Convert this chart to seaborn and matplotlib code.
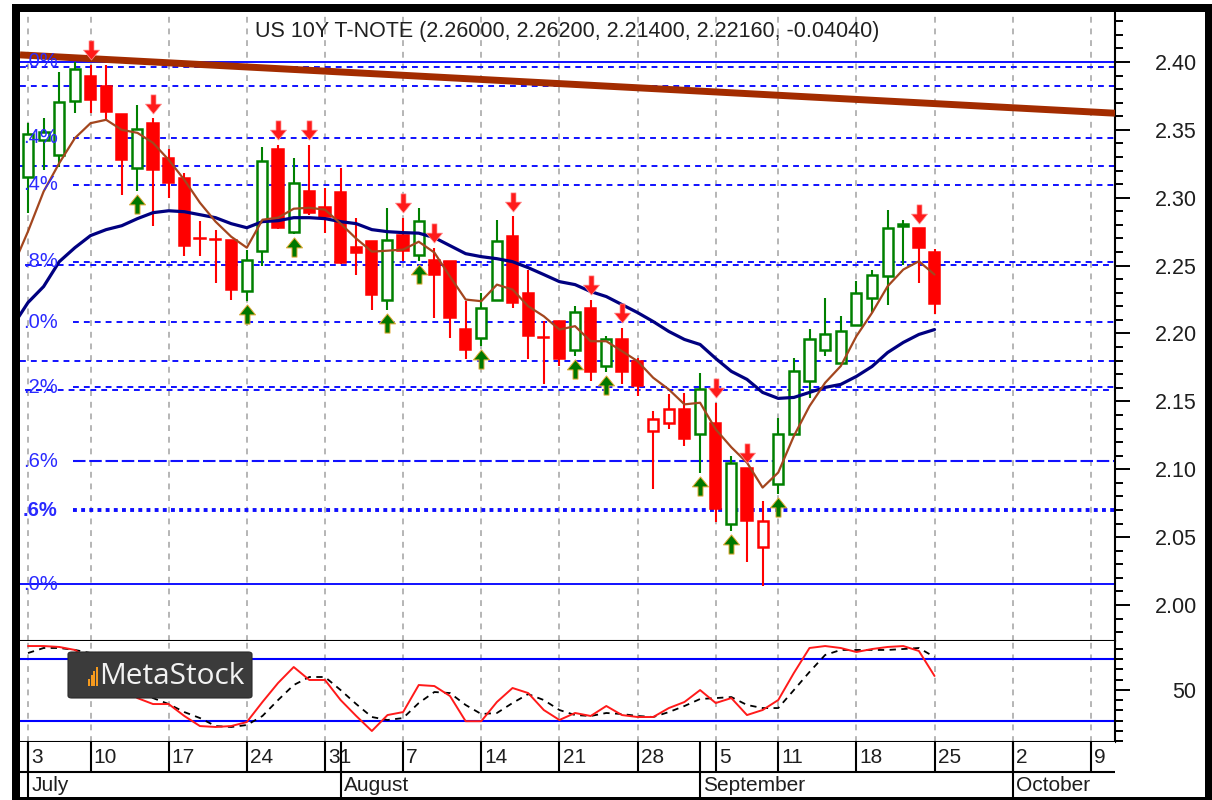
"""Recreate a MetaStock daily chart of the US 10Y T-Note (Jul - Sep 2017)."""

import matplotlib

matplotlib.use("Agg")
import matplotlib.pyplot as plt
import numpy as np
import pandas as pd
import seaborn as sns
from matplotlib.patches import FancyBboxPatch, Rectangle
from matplotlib.path import Path
from matplotlib.ticker import MultipleLocator

TITLE = "US 10Y T-NOTE (2.26000, 2.26200, 2.21400, 2.22160, -0.04040)"

HOLIDAYS = ["2017-07-04", "2017-09-04"]
FIRST_DAY, LAST_AXIS_DAY = "2017-07-03", "2017-10-13"

OPEN = [2.3154, 2.3426, 2.3316, 2.3713, 2.3897, 2.3824, 2.3618, 2.3218, 2.3554, 2.3292,
        2.3145, 2.2705, 2.2695, 2.2691, 2.2312, 2.2605, 2.3358, 2.2750, 2.3046, 2.2934,
        2.3039, 2.2640, 2.2679, 2.2250, 2.2728, 2.2581, 2.2544, 2.2532, 2.2030, 2.1968,
        2.2250, 2.2715, 2.2300, 2.1975, 2.2090, 2.1882, 2.2189, 2.1760, 2.1956, 2.1796,
        2.1282, 2.1343, 2.1441, 2.1257, 2.1343, 2.0596, 2.1012, 2.0424, 2.0890, 2.1257,
        2.1649, 2.1882, 2.1785, 2.2066, 2.2262, 2.2421, 2.2795, 2.2777, 2.2600]
HIGH = [2.3550, 2.3588, 2.3929, 2.4002, 2.3978, 2.3978, 2.3618, 2.3684, 2.3586, 2.3358,
        2.3181, 2.2831, 2.2765, 2.2691, 2.2618, 2.3377, 2.3389, 2.3290, 2.3389, 2.3074,
        2.3220, 2.2853, 2.2680, 2.2924, 2.2851, 2.2924, 2.2632, 2.2532, 2.2238, 2.2300,
        2.2838, 2.2862, 2.2470, 2.2090, 2.2090, 2.2200, 2.2250, 2.1980, 2.2042, 2.1820,
        2.1429, 2.1551, 2.1564, 2.1711, 2.1490, 2.1098, 2.1012, 2.0767, 2.1380, 2.1821,
        2.2030, 2.2262, 2.2128, 2.2385, 2.2471, 2.2912, 2.2838, 2.2777, 2.2620]
LOW = [2.2890, 2.3206, 2.3230, 2.3627, 2.3627, 2.3574, 2.3020, 2.3046, 2.2789, 2.2998,
       2.2569, 2.2569, 2.2372, 2.2250, 2.2238, 2.2495, 2.2770, 2.2730, 2.2870, 2.2743,
       2.2515, 2.2434, 2.2176, 2.2176, 2.2532, 2.2532, 2.2115, 2.1968, 2.1809, 2.1907,
       2.2250, 2.2191, 2.1810, 2.1625, 2.1760, 2.1833, 2.1649, 2.1716, 2.1625, 2.1539,
       2.0853, 2.1294, 2.1171, 2.0976, 2.0610, 2.0547, 2.0314, 2.0142, 2.0816, 2.1257,
       2.1527, 2.1833, 2.1772, 2.2066, 2.2152, 2.2213, 2.2507, 2.2373, 2.2140]
CLOSE = [2.3470, 2.3485, 2.3708, 2.3946, 2.3721, 2.3635, 2.3280, 2.3505, 2.3201, 2.3108,
         2.2643, 2.2695, 2.2688, 2.2324, 2.2544, 2.3267, 2.2777, 2.3110, 2.2890, 2.2860,
         2.2520, 2.2590, 2.2287, 2.2691, 2.2605, 2.2826, 2.2434, 2.2115, 2.1882, 2.2189,
         2.2679, 2.2226, 2.1980, 2.1965, 2.1809, 2.2157, 2.1716, 2.1956, 2.1716, 2.1613,
         2.1368, 2.1441, 2.1220, 2.1588, 2.0706, 2.1049, 2.0620, 2.0620, 2.1257, 2.1723,
         2.1956, 2.1993, 2.2017, 2.2299, 2.2434, 2.2777, 2.2805, 2.2630, 2.2216]
# expert highlight per bar: g = bullish, r = bearish
HIGHLIGHT = ("gggg" "rrr" "g" "rrrrrr" "gg" "r" "g" "rrrrr" "g" "r" "g" "rrr" "gg"
             "rrrr" "g" "r" "g" "rrrrr" "g" "r" "g" "rr" "ggggggggg" "rr")

SELL_SIGNALS = ["2017-07-10", "2017-07-14", "2017-07-26", "2017-07-28", "2017-08-07",
                "2017-08-09", "2017-08-16", "2017-08-23", "2017-08-25", "2017-09-05",
                "2017-09-07", "2017-09-22"]
BUY_SIGNALS = ["2017-07-13", "2017-07-24", "2017-07-27", "2017-08-04", "2017-08-08",
               "2017-08-14", "2017-08-22", "2017-08-24", "2017-09-01", "2017-09-06",
               "2017-09-11"]

# moving averages, first value belongs to the session before Jul 3
SHORT_MA = [2.2485, 2.2752, 2.3046, 2.3255, 2.3439, 2.3549, 2.3574, 2.3500, 2.3478, 2.3404,
            2.3279, 2.3132, 2.2963, 2.2824, 2.2713, 2.2632, 2.2838, 2.2853, 2.2919, 2.2926,
            2.2912, 2.2809, 2.2699, 2.2603, 2.2610, 2.2618, 2.2676, 2.2596, 2.2419, 2.2250,
            2.2238, 2.2360, 2.2324, 2.2201, 2.2127, 2.2029, 2.2054, 2.1943, 2.1943, 2.1870,
            2.1796, 2.1674, 2.1588, 2.1478, 2.1490, 2.1294, 2.1162, 2.1049, 2.0865, 2.0976,
            2.1245, 2.1465, 2.1637, 2.1760, 2.1980, 2.2152, 2.2348, 2.2471, 2.2532, 2.2434]
LONG_MA = [2.2051, 2.2228, 2.2346, 2.2529, 2.2632, 2.2721, 2.2765, 2.2794, 2.2846, 2.2890,
           2.2904, 2.2897, 2.2875, 2.2853, 2.2809, 2.2779, 2.2824, 2.2831, 2.2853, 2.2853,
           2.2846, 2.2824, 2.2809, 2.2765, 2.2750, 2.2743, 2.2739, 2.2706, 2.2647, 2.2588,
           2.2566, 2.2551, 2.2529, 2.2485, 2.2434, 2.2382, 2.2360, 2.2309, 2.2272, 2.2213,
           2.2154, 2.2088, 2.2015, 2.1956, 2.1919, 2.1816, 2.1721, 2.1662, 2.1566, 2.1522,
           2.1529, 2.1566, 2.1603, 2.1625, 2.1684, 2.1757, 2.1860, 2.1934, 2.1993, 2.2029]

STOCH_K = [92.6, 92.6, 91.7, 88.8, 79.0, 67.4, 54.7, 42.0, 36.2, 36.2,
           24.6, 14.8, 13.9, 14.8, 18.7, 38.2, 56.7, 72.2, 59.6, 59.6,
           40.1, 24.6, 10.0, 25.5, 28.4, 54.7, 53.7, 44.0, 19.5, 19.5,
           38.2, 51.8, 46.9, 30.4, 20.7, 27.5, 24.6, 34.3, 25.5, 23.6,
           23.6, 32.3, 38.2, 49.8, 37.2, 42.0, 25.5, 30.4, 40.1, 66.4,
           90.7, 92.6, 90.7, 86.8, 89.7, 91.7, 92.6, 87.8, 63.5]
STOCH_D = [85.8, 90.7, 90.7, 88.8, 85.8, 79.0, 67.4, 49.8, 42.0, 36.2,
           28.4, 22.6, 14.8, 13.9, 15.8, 24.6, 40.1, 54.7, 62.5, 62.5,
           49.8, 36.2, 23.6, 20.7, 22.6, 37.2, 47.9, 46.9, 35.3, 26.5,
           27.5, 37.2, 45.9, 40.1, 30.4, 25.5, 24.6, 27.5, 26.5, 24.6,
           23.6, 28.4, 34.3, 41.1, 42.0, 43.0, 35.3, 32.3, 32.3, 49.8,
           67.4, 83.9, 88.8, 88.8, 88.8, 88.8, 89.7, 90.7, 81.9]
STOCH_BANDS = [80, 20]

# trend line anchors (date, price)
TREND_ANCHORS = [("2017-07-03", 2.4049), ("2017-10-09", 2.3632)]

FIB_LEVELS = [2.4000, 2.3963, 2.3824, 2.3441, 2.3235, 2.3096, 2.2529, 2.2507, 2.2081,
              2.1794, 2.1603, 2.1585, 2.1059, 2.0699, 2.0154]
# only the tail of each level label is visible in the source screenshot
FIB_LABELS = [".0%", "", "", ".4%", "", ".4%", ".8%", "", ".0%",
              "", ".2%", "", ".6%", ".6%", ".0%"]

# ---- styling -------------------------------------------------------------
FIB_STYLE = ["solid", "dash", "dash", "dash", "dash", "dash", "dash", "dash2", "dash",
             "dash", "dash", "dash2", "long", "dot", "solid"]
GREEN, RED = "#008000", "#ff0000"
BLUE = "#1010ff"
FONT = ["Liberation Sans", "DejaVu Sans"]

W, H = 1212, 800
X0, DX = 28.0, 15.63           # pixel of first bar, pixels per bar
XLIM = ((20 - X0) / DX, (1115 - X0) / DX)
PRICE_LIM = (1.9735, 2.4368)
OSC_LIM = (-0.7, 97.5)
PX = (PRICE_LIM[1] - PRICE_LIM[0]) / (641 - 12)   # price units per pixel


def fig_box(x0, y0, x1, y1):
    """Pixel box (top-left origin) -> figure fraction rect."""
    return [x0 / W, 1 - y1 / H, (x1 - x0) / W, (y1 - y0) / H]


def arrow_path(up):
    verts = [(-0.13, 0.5), (0.13, 0.5), (0.13, 0.02), (0.42, 0.02), (0.0, -0.5),
             (-0.42, 0.02), (-0.13, 0.02), (-0.13, 0.5)]
    if up:
        verts = [(x, -y) for x, y in verts]
    return Path(verts, closed=True)


def main():
    sns.set_theme(style="white")
    plt.rcParams["font.family"] = FONT

    calendar = pd.bdate_range(FIRST_DAY, LAST_AXIS_DAY)
    calendar = calendar[~calendar.isin(pd.to_datetime(HOLIDAYS))]
    index_of = {d: i for i, d in enumerate(calendar)}

    n = len(CLOSE)
    bars = pd.DataFrame({"date": calendar[:n], "open": OPEN, "high": HIGH,
                         "low": LOW, "close": CLOSE, "tone": list(HIGHLIGHT)})
    bars["pos"] = np.arange(n)
    bars["color"] = bars["tone"].map({"g": GREEN, "r": RED})
    bars["hollow"] = bars["close"] > bars["open"]

    fig = plt.figure(figsize=(W / 100, H / 100), dpi=100)
    ax = fig.add_axes(fig_box(20, 12, 1115, 641))
    ax_k = fig.add_axes(fig_box(20, 641, 1115, 742))
    ax_d = fig.add_axes(fig_box(20, 742, 1115, 798))
    for a in (ax, ax_k, ax_d):
        a.set_xlim(*XLIM)
        a.set_facecolor("white")
        a.tick_params(axis="x", bottom=False, labelbottom=False, top=False)
        for side in ("left", "top"):
            a.spines[side].set_visible(False)
        for side in ("right", "bottom"):
            a.spines[side].set_color("black")
            a.spines[side].set_linewidth(1.5)
    ax.set_ylim(*PRICE_LIM)
    ax_k.set_ylim(*OSC_LIM)

    # weekly and monthly boundaries from the trading calendar
    week_start = [i for i in range(len(calendar))
                  if i == 0 or calendar[i].weekday() < calendar[i - 1].weekday()]
    month_start = [i for i in range(len(calendar))
                   if i == 0 or calendar[i].month != calendar[i - 1].month]

    for a in (ax, ax_k):
        a.vlines(week_start, *a.get_ylim(), colors="#a9a9a9", lw=1.2,
                 linestyles=(0, (3.5, 3.5)), zorder=1)

    # Fibonacci retracement lines
    for level, label, style in zip(FIB_LEVELS, FIB_LABELS, FIB_STYLE):
        start = (73 - X0) / DX if (label and style != "solid") else XLIM[0]
        kw = {"solid": dict(linestyles="solid", lw=1.4),
              "dash": dict(linestyles=(0, (3.0, 2.6)), lw=1.4),
              "dash2": dict(linestyles=(3.0, (3.0, 2.6)), lw=1.4),
              "long": dict(linestyles=(0, (6.0, 1.8)), lw=1.5),
              "dot": dict(linestyles=(0, (1.0, 1.1)), lw=2.8)}[style]
        ax.hlines(level, start, XLIM[1], colors=BLUE, zorder=2, **kw)
        if label:
            ax.text((23 - X0) / DX, level, label, ha="left", va="center",
                    fontsize=14.5, color="#2a2aff",
                    fontweight="bold" if style == "dot" else "normal", zorder=8)

    # long-term trend line
    (d0, p0), (d1, p1) = TREND_ANCHORS
    ax.axline((index_of[pd.Timestamp(d0)], p0), (index_of[pd.Timestamp(d1)], p1),
              color="#a32c00", lw=5.0, zorder=3, solid_capstyle="butt")

    # candlesticks
    ax.vlines(bars["pos"], bars["low"], bars["high"], colors=bars["color"],
              lw=1.5, zorder=4)
    body_low = bars[["open", "close"]].min(axis=1)
    body_h = (bars["close"] - bars["open"]).abs()
    for hollow, width, lw in ((False, 0.72, 1.1), (True, 0.64, 1.8)):
        m = bars["hollow"] == hollow
        ax.bar(bars.loc[m, "pos"], body_h[m], bottom=body_low[m], width=width,
               color="white" if hollow else bars.loc[m, "color"],
               edgecolor=bars.loc[m, "color"], linewidth=lw, zorder=5)

    # moving averages
    ma_pos = np.arange(-1, n)
    sns.lineplot(x=ma_pos, y=LONG_MA, ax=ax, color="#000080", linewidth=2.3,
                 zorder=6, estimator=None)
    sns.lineplot(x=ma_pos, y=SHORT_MA, ax=ax, color="#a3461e", linewidth=1.6,
                 zorder=6, estimator=None)

    # expert signals
    sells = bars[bars["date"].isin(pd.to_datetime(SELL_SIGNALS))]
    buys = bars[bars["date"].isin(pd.to_datetime(BUY_SIGNALS))]
    ax.scatter(sells["pos"], sells["high"] + 14.5 * PX, marker=arrow_path(False),
               s=190, c="#ff1a1a", edgecolors="#ff9090", linewidths=0.5, zorder=7)
    ax.scatter(buys["pos"], buys["low"] - 13.0 * PX, marker=arrow_path(True),
               s=190, c="#007800", edgecolors="#e0a830", linewidths=0.7, zorder=7)

    ax.text(0.5, 1 - 20 / 629, TITLE, transform=ax.transAxes, ha="center",
            va="center", fontsize=15.5, color="#202020", zorder=8)

    # right price axis
    ax.yaxis.tick_right()
    ax.set_yticks(np.arange(2.00, 2.401, 0.05))
    ax.set_yticklabels([f"{v:.2f}" for v in np.arange(2.00, 2.401, 0.05)])
    ax.yaxis.set_minor_locator(MultipleLocator(0.01))
    ax.tick_params(axis="y", which="major", right=True, left=False, length=10.8,
                   width=1.4, pad=48, labelsize=15.5, labelcolor="#1e1e1e",
                   color="black", direction="out")
    ax.tick_params(axis="y", which="minor", right=True, left=False, length=5.8,
                   width=1.4, color="black", direction="out")
    for lab in ax.get_yticklabels():
        lab.set_horizontalalignment("right")

    # stochastic oscillator
    k_pos = np.arange(n)
    ax_k.hlines(STOCH_BANDS, *XLIM, colors="#0000ff", lw=1.5, zorder=2)
    sns.lineplot(x=k_pos, y=STOCH_D, ax=ax_k, color="black", linewidth=1.3,
                 zorder=3, estimator=None)
    ax_k.lines[-1].set_linestyle((0, (3.5, 3.0)))
    sns.lineplot(x=k_pos, y=STOCH_K, ax=ax_k, color="#ff1a1a", linewidth=1.4,
                 zorder=4, estimator=None)
    ax_k.yaxis.tick_right()
    ax_k.set_yticks([50])
    ax_k.set_yticklabels(["50"])
    ax_k.yaxis.set_minor_locator(MultipleLocator(10))
    ax_k.tick_params(axis="y", which="major", right=True, left=False, length=10.8,
                     width=1.4, pad=48, labelsize=15.5, labelcolor="#1e1e1e",
                     color="black", direction="out")
    ax_k.tick_params(axis="y", which="minor", right=True, left=False, length=5.8,
                     width=1.4, color="black", direction="out")
    for lab in ax_k.get_yticklabels():
        lab.set_horizontalalignment("right")
    ax.set_ylabel("")
    ax_k.set_ylabel("")

    # date strip (pixel rows: 0-30 day numbers, 30-56 month names)
    ax_d.set_ylim(56, 0)
    ax_d.set_yticks([])
    ax_d.spines["right"].set_visible(False)
    ax_d.spines["bottom"].set_visible(False)
    ax_d.hlines(30, *XLIM, colors="black", lw=1.5)
    ax_d.vlines(week_start, 0, 30, colors="black", lw=1.5)
    ax_d.vlines(month_start, 0, 56, colors="black", lw=1.5, zorder=3)
    for i in week_start:
        ax_d.text(i + 0.2, 15.5, str(calendar[i].day), ha="left", va="center",
                  fontsize=15, color="#1e1e1e", zorder=2)
    for i in month_start:
        ax_d.text(i + 0.2, 43.5, calendar[i].strftime("%B"), ha="left",
                  va="center", fontsize=15, color="#1e1e1e", zorder=2)

    # MetaStock badge
    fig.add_artist(FancyBboxPatch((68 / W, 1 - 698 / H), 184 / W, 46 / H,
                                  boxstyle="round,pad=0,rounding_size=0.003",
                                  transform=fig.transFigure, facecolor="#3b3b3b",
                                  edgecolor="#2a2a2a", lw=0.8, zorder=20))
    for k, hgt in enumerate([7, 11, 15, 19]):
        fig.add_artist(Rectangle(((88 + 2.6 * k) / W, 1 - 686 / H), 2.0 / W, hgt / H,
                                 transform=fig.transFigure, facecolor="#f59a1e",
                                 edgecolor="none", zorder=21))
    fig.text(99 / W, 1 - 676 / H, "MetaStock", ha="left", va="center",
             fontsize=21.5, color="#f2f2f2", zorder=22,
             family=["Open Sans", "DejaVu Sans"])

    # outer black frame
    for box in ((12, 4, 20, 800), (12, 4, W, 12), (1205, 4, W, 800), (12, 797, W, 800)):
        fig.add_artist(Rectangle(fig_box(*box)[:2], *fig_box(*box)[2:],
                                 transform=fig.transFigure, facecolor="black",
                                 edgecolor="none", zorder=30))

    fig.savefig("out.png", dpi=100, facecolor="white")
    plt.close(fig)


if __name__ == "__main__":
    main()
